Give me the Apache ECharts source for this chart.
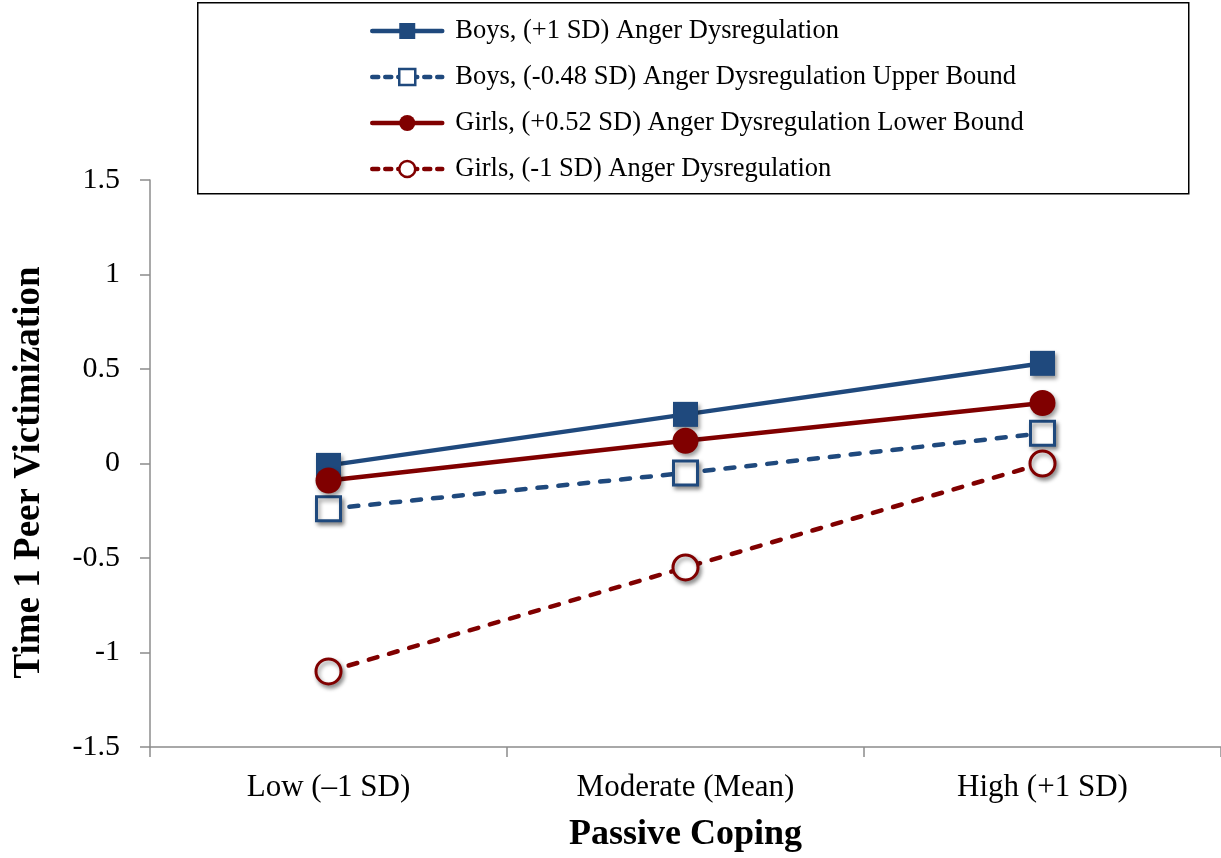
<!DOCTYPE html>
<html>
<head>
<meta charset="utf-8">
<title>Time 1 Peer Victimization by Passive Coping</title>
<script src="https://cdn.jsdelivr.net/npm/echarts@6/dist/echarts.min.js"></script>
<style>
  html, body { margin: 0; padding: 0; background: #ffffff; }
  #chart { width: 1221px; height: 858px; }
</style>
</head>
<body>
<div id="chart"></div>
<script>
// Passive coping levels on the x axis
const categories = ['Low (\u20131 SD)', 'Moderate (Mean)', 'High (+1 SD)'];

// Simple slopes of Time 1 peer victimization
const boysHighAnger = [-0.01, 0.26, 0.53];
const boysUpperBound = [-0.24, -0.05, 0.16];
const girlsLowerBound = [-0.09, 0.12, 0.32];
const girlsLowAnger = [-1.10, -0.55, 0.00];

const seriesNames = [
  'Boys, (+1 SD) Anger Dysregulation',
  'Boys, (-0.48 SD) Anger Dysregulation Upper Bound',
  'Girls, (+0.52 SD) Anger Dysregulation Lower Bound',
  'Girls, (-1 SD) Anger Dysregulation'
];

const BLUE = '#1F497D';
const RED = '#800000';
const FONT = '"Liberation Serif", "Times New Roman", serif';
const AXIS_GRAY = '#8c8c8c';
const DASH = [9, 12];

const markerShadow = {
  shadowBlur: 4,
  shadowColor: 'rgba(0,0,0,0.4)',
  shadowOffsetX: 2,
  shadowOffsetY: 3
};

function makeSeries(name, data, color, dashed, filled, symbol, size) {
  return {
    name: name,
    type: 'line',
    data: data,
    symbol: symbol,
    symbolSize: size,
    showAllSymbol: true,
    lineStyle: {
      color: color,
      width: 4.5,
      type: dashed ? DASH : 'solid',
      cap: 'round'
    },
    itemStyle: Object.assign({
      color: filled ? color : '#ffffff',
      borderColor: color,
      borderWidth: filled ? 0 : 3
    }, markerShadow),
    emphasis: { disabled: true },
    animation: false
  };
}

function legendEntry(name, color, dashed, filled) {
  return {
    name: name,
    lineStyle: {
      color: color,
      width: 4.5,
      type: dashed ? [6, 7] : 'solid',
      cap: 'round'
    },
    itemStyle: {
      color: filled ? color : '#ffffff',
      borderColor: color,
      borderWidth: filled ? 0 : 2.5,
      shadowBlur: 0,
      shadowOffsetX: 0,
      shadowOffsetY: 0,
      shadowColor: 'rgba(0,0,0,0)'
    }
  };
}

const chart = echarts.init(document.getElementById('chart'), null, { renderer: 'canvas' });

chart.setOption({
  backgroundColor: '#ffffff',
  textStyle: { fontFamily: FONT, color: '#000' },
  grid: { left: 150, right: 0, top: 180, bottom: 111, containLabel: false },
  graphic: [{
    type: 'rect',
    left: 197,
    top: 2,
    shape: { x: 0, y: 0, width: 991, height: 191 },
    style: { fill: '#ffffff', stroke: '#000000', lineWidth: 1.5 },
    z: 5
  }],
  legend: {
    orient: 'vertical',
    left: 370,
    top: 16,
    padding: 0,
    itemWidth: 70,
    itemHeight: 20,
    itemGap: 16,
    z: 10,
    selectedMode: false,
    data: [
      legendEntry(seriesNames[0], BLUE, false, true),
      legendEntry(seriesNames[1], BLUE, true, false),
      legendEntry(seriesNames[2], RED, false, true),
      legendEntry(seriesNames[3], RED, true, false)
    ],
    textStyle: { fontFamily: FONT, fontSize: 26.5, color: '#000', lineHeight: 30, padding: [0, 0, 0, 8] }
  },
  xAxis: {
    type: 'category',
    data: categories,
    boundaryGap: true,
    name: 'Passive Coping',
    nameLocation: 'middle',
    nameGap: 70,
    nameTextStyle: { fontFamily: FONT, fontSize: 36, fontWeight: 'bold', color: '#000' },
    axisLine: { onZero: false, lineStyle: { color: AXIS_GRAY, width: 1.5 } },
    axisTick: { show: true, length: 10, lineStyle: { color: AXIS_GRAY, width: 1.5 } },
    axisLabel: { fontFamily: FONT, fontSize: 31, color: '#000', margin: 25 },
    splitLine: { show: false }
  },
  yAxis: {
    type: 'value',
    min: -1.5,
    max: 1.5,
    interval: 0.5,
    name: 'Time 1 Peer Victimization',
    nameLocation: 'middle',
    nameGap: 102,
    nameTextStyle: { fontFamily: FONT, fontSize: 37, fontWeight: 'bold', color: '#000', padding: [0, 18, 0, 0] },
    axisLine: { show: true, lineStyle: { color: AXIS_GRAY, width: 1.5 } },
    axisTick: { show: true, length: 10, lineStyle: { color: AXIS_GRAY, width: 1.5 } },
    axisLabel: { fontFamily: FONT, fontSize: 30, color: '#000', margin: 30 },
    splitLine: { show: false }
  },
  series: [
    makeSeries(seriesNames[0], boysHighAnger, BLUE, false, true, 'rect', 25),
    makeSeries(seriesNames[1], boysUpperBound, BLUE, true, false, 'rect', 24),
    makeSeries(seriesNames[2], girlsLowerBound, RED, false, true, 'circle', 26),
    makeSeries(seriesNames[3], girlsLowAnger, RED, true, false, 'circle', 25)
  ]
});
</script>
</body>
</html>
